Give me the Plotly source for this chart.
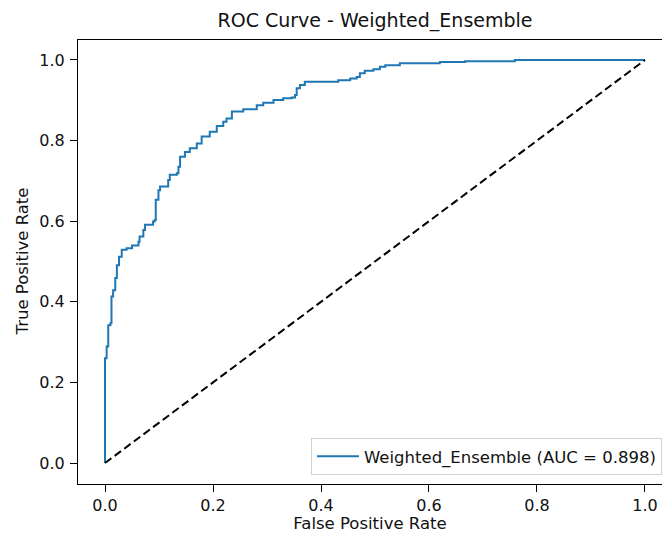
import plotly.graph_objects as go

# ROC curve points (false positive rate, true positive rate)
fpr = [0.0, 0.0, 0.003, 0.006, 0.010, 0.012, 0.015, 0.019, 0.022, 0.026, 0.031,
       0.040, 0.050, 0.062, 0.064, 0.071, 0.074, 0.089, 0.092, 0.094, 0.099,
       0.102, 0.117, 0.120, 0.133, 0.136, 0.139, 0.148, 0.157, 0.170, 0.179,
       0.194, 0.207, 0.219, 0.225, 0.235, 0.256, 0.281, 0.293, 0.312, 0.330,
       0.346, 0.352, 0.355, 0.361, 0.370, 0.432, 0.454, 0.466, 0.472, 0.481,
       0.497, 0.509, 0.519, 0.546, 0.620, 0.667, 0.759, 1.0]
tpr = [0.0, 0.260, 0.289, 0.342, 0.347, 0.413, 0.429, 0.459, 0.491, 0.512, 0.529,
       0.533, 0.540, 0.549, 0.562, 0.578, 0.591, 0.599, 0.603, 0.653, 0.677,
       0.686, 0.702, 0.715, 0.719, 0.735, 0.760, 0.772, 0.781, 0.793, 0.810,
       0.822, 0.836, 0.847, 0.855, 0.872, 0.878, 0.888, 0.894, 0.901, 0.905,
       0.907, 0.913, 0.930, 0.938, 0.946, 0.950, 0.954, 0.958, 0.967, 0.973,
       0.977, 0.983, 0.987, 0.992, 0.995, 0.997, 1.0, 1.0]
diag = [0.0, 1.0]
model_name = "Weighted_Ensemble"
auc = 0.898
tick_vals = [0.0, 0.2, 0.4, 0.6, 0.8, 1.0]
tick_text = ["0.0", "0.2", "0.4", "0.6", "0.8", "1.0"]

FONT = "DejaVu Sans"
TXT = "#111"

fig = go.Figure()
fig.add_trace(go.Scatter(
    x=fpr, y=tpr, mode="lines", line_shape="hv",
    line=dict(color="#1f77b4", width=2),
    name=f"{model_name} (AUC = {auc:.3f})",
))
fig.add_trace(go.Scatter(
    x=diag, y=diag, mode="lines",
    line=dict(color="black", width=2, dash="8px,4px"),
    showlegend=False, hoverinfo="skip",
))

axis_common = dict(
    showgrid=False, zeroline=False, showline=True, linecolor="black", linewidth=1,
    ticks="outside", ticklen=7, tickwidth=1, tickcolor="black",
    tickvals=tick_vals, ticktext=tick_text,
    tickfont=dict(family=FONT, size=16, color=TXT),
)

fig.update_layout(
    width=662, height=533,
    margin=dict(l=78, r=0, t=40, b=49),
    paper_bgcolor="white", plot_bgcolor="white",
    font=dict(family=FONT, color=TXT),
    title=dict(text=f"ROC Curve - {model_name}", x=0.5086, xanchor="center",
               xref="paper", y=0.962, yanchor="middle", yref="container",
               font=dict(family=FONT, size=19, color=TXT)),
    xaxis=dict(range=[-0.05, 1.0315], mirror=True,
               title=dict(text="False Positive Rate", font=dict(family=FONT, size=16.5, color=TXT), standoff=5),
               **axis_common),
    yaxis=dict(range=[-0.052, 1.0496], ticklabelstandoff=2, **axis_common),
    annotations=[dict(text="True Positive Rate", textangle=-90, xref="paper", yref="paper",
                      x=(21.5 - 78) / 584, y=0.5, xanchor="center", yanchor="middle",
                      showarrow=False, font=dict(family=FONT, size=16.5, color=TXT))],
    legend=dict(x=0.399, y=0.02, xanchor="left", yanchor="bottom", itemwidth=42,
                entrywidth=310, entrywidthmode="pixels",
                bordercolor="#d0d0d0", borderwidth=1, bgcolor="rgba(255,255,255,0.8)",
                font=dict(family=FONT, size=16.5, color=TXT)),
    showlegend=True,
)

fig.write_html("out.html")
